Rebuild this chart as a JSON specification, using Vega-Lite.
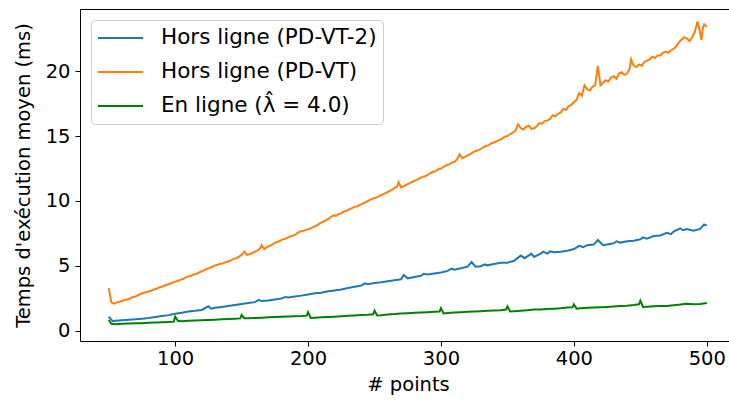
{
  "$schema": "https://vega.github.io/schema/vega-lite/v6.json",
  "width": 649,
  "height": 332,
  "autosize": {"type": "none"},
  "padding": {"left": 80, "top": 9, "right": 0, "bottom": 62},
  "background": "white",
  "config": {"view": {"stroke": null}, "font": "DejaVu Sans"},
  "data": {"values": [
{"s":"a","x":50,"y":1.1},{"s":"a","x":53,"y":0.75},{"s":"a","x":55,"y":0.78},{"s":"a","x":60,"y":0.82},{"s":"a","x":65,"y":0.87},{"s":"a","x":70,"y":0.9},{"s":"a","x":75,"y":0.95},{"s":"a","x":80,"y":1.0},{"s":"a","x":85,"y":1.08},{"s":"a","x":90,"y":1.15},{"s":"a","x":95,"y":1.22},{"s":"a","x":100,"y":1.32},{"s":"a","x":105,"y":1.4},{"s":"a","x":110,"y":1.5},{"s":"a","x":115,"y":1.55},{"s":"a","x":120,"y":1.62},{"s":"a","x":125,"y":1.9},{"s":"a","x":127,"y":1.72},{"s":"a","x":130,"y":1.78},{"s":"a","x":135,"y":1.85},{"s":"a","x":140,"y":1.92},{"s":"a","x":145,"y":2.0},{"s":"a","x":150,"y":2.07},{"s":"a","x":155,"y":2.15},{"s":"a","x":160,"y":2.22},{"s":"a","x":163,"y":2.4},{"s":"a","x":165,"y":2.3},{"s":"a","x":170,"y":2.35},{"s":"a","x":175,"y":2.42},{"s":"a","x":180,"y":2.5},{"s":"a","x":183,"y":2.62},{"s":"a","x":185,"y":2.58},{"s":"a","x":190,"y":2.65},{"s":"a","x":195,"y":2.72},{"s":"a","x":200,"y":2.8},{"s":"a","x":205,"y":2.9},{"s":"a","x":210,"y":2.95},{"s":"a","x":215,"y":3.05},{"s":"a","x":220,"y":3.12},{"s":"a","x":225,"y":3.2},{"s":"a","x":230,"y":3.3},{"s":"a","x":235,"y":3.4},{"s":"a","x":240,"y":3.5},{"s":"a","x":243,"y":3.66},{"s":"a","x":245,"y":3.6},{"s":"a","x":250,"y":3.7},{"s":"a","x":255,"y":3.75},{"s":"a","x":260,"y":3.82},{"s":"a","x":265,"y":3.9},{"s":"a","x":270,"y":3.98},{"s":"a","x":272,"y":4.3},{"s":"a","x":275,"y":4.05},{"s":"a","x":280,"y":4.15},{"s":"a","x":285,"y":4.25},{"s":"a","x":287,"y":4.4},{"s":"a","x":290,"y":4.35},{"s":"a","x":295,"y":4.42},{"s":"a","x":300,"y":4.5},{"s":"a","x":305,"y":4.62},{"s":"a","x":308,"y":4.8},{"s":"a","x":310,"y":4.72},{"s":"a","x":315,"y":4.82},{"s":"a","x":320,"y":4.95},{"s":"a","x":323,"y":5.3},{"s":"a","x":326,"y":4.95},{"s":"a","x":330,"y":4.98},{"s":"a","x":333,"y":5.12},{"s":"a","x":335,"y":5.05},{"s":"a","x":340,"y":5.15},{"s":"a","x":345,"y":5.25},{"s":"a","x":350,"y":5.25},{"s":"a","x":355,"y":5.4},{"s":"a","x":360,"y":5.8},{"s":"a","x":363,"y":5.6},{"s":"a","x":368,"y":5.95},{"s":"a","x":370,"y":5.7},{"s":"a","x":375,"y":5.95},{"s":"a","x":377,"y":6.1},{"s":"a","x":380,"y":5.95},{"s":"a","x":382,"y":6.12},{"s":"a","x":385,"y":6.05},{"s":"a","x":390,"y":6.1},{"s":"a","x":395,"y":6.18},{"s":"a","x":400,"y":6.3},{"s":"a","x":404,"y":6.55},{"s":"a","x":407,"y":6.45},{"s":"a","x":410,"y":6.6},{"s":"a","x":415,"y":6.65},{"s":"a","x":418,"y":7.0},{"s":"a","x":422,"y":6.6},{"s":"a","x":425,"y":6.65},{"s":"a","x":430,"y":6.75},{"s":"a","x":432,"y":6.9},{"s":"a","x":435,"y":6.8},{"s":"a","x":440,"y":6.9},{"s":"a","x":445,"y":6.95},{"s":"a","x":450,"y":7.05},{"s":"a","x":452,"y":7.2},{"s":"a","x":455,"y":7.1},{"s":"a","x":460,"y":7.3},{"s":"a","x":465,"y":7.35},{"s":"a","x":470,"y":7.55},{"s":"a","x":473,"y":7.45},{"s":"a","x":475,"y":7.65},{"s":"a","x":480,"y":7.9},{"s":"a","x":482,"y":7.75},{"s":"a","x":485,"y":7.85},{"s":"a","x":490,"y":7.72},{"s":"a","x":495,"y":7.85},{"s":"a","x":498,"y":8.2},{"s":"a","x":500,"y":8.1},
{"s":"b","x":50,"y":3.3},{"s":"b","x":52,"y":2.2},{"s":"b","x":54,"y":2.1},{"s":"b","x":56,"y":2.2},{"s":"b","x":58,"y":2.25},{"s":"b","x":60,"y":2.3},{"s":"b","x":62,"y":2.4},{"s":"b","x":64,"y":2.42},{"s":"b","x":66,"y":2.5},{"s":"b","x":68,"y":2.6},{"s":"b","x":70,"y":2.65},{"s":"b","x":72,"y":2.75},{"s":"b","x":74,"y":2.85},{"s":"b","x":76,"y":2.92},{"s":"b","x":78,"y":2.98},{"s":"b","x":80,"y":3.05},{"s":"b","x":82,"y":3.1},{"s":"b","x":84,"y":3.2},{"s":"b","x":86,"y":3.25},{"s":"b","x":88,"y":3.35},{"s":"b","x":90,"y":3.4},{"s":"b","x":92,"y":3.5},{"s":"b","x":94,"y":3.55},{"s":"b","x":96,"y":3.65},{"s":"b","x":98,"y":3.72},{"s":"b","x":100,"y":3.8},{"s":"b","x":102,"y":3.85},{"s":"b","x":104,"y":3.95},{"s":"b","x":106,"y":4.0},{"s":"b","x":108,"y":4.12},{"s":"b","x":110,"y":4.2},{"s":"b","x":112,"y":4.25},{"s":"b","x":114,"y":4.35},{"s":"b","x":116,"y":4.4},{"s":"b","x":118,"y":4.5},{"s":"b","x":120,"y":4.6},{"s":"b","x":122,"y":4.68},{"s":"b","x":124,"y":4.8},{"s":"b","x":126,"y":4.85},{"s":"b","x":128,"y":4.95},{"s":"b","x":130,"y":5.05},{"s":"b","x":132,"y":5.1},{"s":"b","x":134,"y":5.18},{"s":"b","x":136,"y":5.2},{"s":"b","x":138,"y":5.3},{"s":"b","x":140,"y":5.35},{"s":"b","x":142,"y":5.45},{"s":"b","x":144,"y":5.55},{"s":"b","x":146,"y":5.6},{"s":"b","x":148,"y":5.72},{"s":"b","x":150,"y":5.85},{"s":"b","x":152,"y":6.1},{"s":"b","x":154,"y":5.85},{"s":"b","x":156,"y":5.9},{"s":"b","x":158,"y":6.0},{"s":"b","x":160,"y":6.1},{"s":"b","x":162,"y":6.2},{"s":"b","x":164,"y":6.35},{"s":"b","x":165,"y":6.6},{"s":"b","x":167,"y":6.3},{"s":"b","x":169,"y":6.45},{"s":"b","x":171,"y":6.55},{"s":"b","x":173,"y":6.65},{"s":"b","x":175,"y":6.8},{"s":"b","x":177,"y":6.85},{"s":"b","x":179,"y":6.95},{"s":"b","x":181,"y":7.05},{"s":"b","x":183,"y":7.1},{"s":"b","x":185,"y":7.2},{"s":"b","x":187,"y":7.3},{"s":"b","x":189,"y":7.35},{"s":"b","x":191,"y":7.45},{"s":"b","x":193,"y":7.6},{"s":"b","x":195,"y":7.7},{"s":"b","x":197,"y":7.72},{"s":"b","x":199,"y":7.8},{"s":"b","x":201,"y":7.85},{"s":"b","x":203,"y":7.95},{"s":"b","x":205,"y":8.05},{"s":"b","x":207,"y":8.15},{"s":"b","x":209,"y":8.3},{"s":"b","x":211,"y":8.4},{"s":"b","x":213,"y":8.5},{"s":"b","x":215,"y":8.6},{"s":"b","x":217,"y":8.75},{"s":"b","x":219,"y":8.9},{"s":"b","x":221,"y":8.85},{"s":"b","x":223,"y":9.0},{"s":"b","x":225,"y":9.05},{"s":"b","x":227,"y":9.2},{"s":"b","x":229,"y":9.25},{"s":"b","x":231,"y":9.35},{"s":"b","x":233,"y":9.45},{"s":"b","x":235,"y":9.55},{"s":"b","x":237,"y":9.6},{"s":"b","x":239,"y":9.7},{"s":"b","x":241,"y":9.8},{"s":"b","x":243,"y":9.9},{"s":"b","x":245,"y":10.0},{"s":"b","x":247,"y":10.1},{"s":"b","x":249,"y":10.2},{"s":"b","x":251,"y":10.25},{"s":"b","x":253,"y":10.35},{"s":"b","x":255,"y":10.45},{"s":"b","x":257,"y":10.55},{"s":"b","x":259,"y":10.65},{"s":"b","x":261,"y":10.75},{"s":"b","x":263,"y":10.85},{"s":"b","x":265,"y":11.0},{"s":"b","x":267,"y":11.1},{"s":"b","x":268,"y":11.45},{"s":"b","x":270,"y":11.05},{"s":"b","x":272,"y":11.15},{"s":"b","x":274,"y":11.25},{"s":"b","x":276,"y":11.35},{"s":"b","x":278,"y":11.45},{"s":"b","x":280,"y":11.55},{"s":"b","x":282,"y":11.65},{"s":"b","x":284,"y":11.75},{"s":"b","x":286,"y":11.85},{"s":"b","x":288,"y":11.9},{"s":"b","x":290,"y":12.0},{"s":"b","x":292,"y":12.15},{"s":"b","x":294,"y":12.25},{"s":"b","x":296,"y":12.3},{"s":"b","x":298,"y":12.45},{"s":"b","x":300,"y":12.5},{"s":"b","x":302,"y":12.65},{"s":"b","x":304,"y":12.75},{"s":"b","x":306,"y":12.8},{"s":"b","x":308,"y":12.95},{"s":"b","x":310,"y":13.0},{"s":"b","x":312,"y":13.2},{"s":"b","x":314,"y":13.6},{"s":"b","x":316,"y":13.3},{"s":"b","x":318,"y":13.4},{"s":"b","x":320,"y":13.5},{"s":"b","x":322,"y":13.6},{"s":"b","x":324,"y":13.75},{"s":"b","x":326,"y":13.85},{"s":"b","x":328,"y":13.9},{"s":"b","x":330,"y":14.0},{"s":"b","x":332,"y":14.15},{"s":"b","x":334,"y":14.25},{"s":"b","x":336,"y":14.3},{"s":"b","x":338,"y":14.45},{"s":"b","x":340,"y":14.5},{"s":"b","x":342,"y":14.6},{"s":"b","x":344,"y":14.7},{"s":"b","x":346,"y":14.8},{"s":"b","x":348,"y":14.95},{"s":"b","x":350,"y":15.0},{"s":"b","x":352,"y":15.15},{"s":"b","x":354,"y":15.25},{"s":"b","x":356,"y":15.4},{"s":"b","x":358,"y":15.9},{"s":"b","x":360,"y":15.6},{"s":"b","x":362,"y":15.5},{"s":"b","x":364,"y":15.7},{"s":"b","x":366,"y":15.8},{"s":"b","x":368,"y":15.55},{"s":"b","x":370,"y":15.6},{"s":"b","x":372,"y":15.75},{"s":"b","x":374,"y":16.0},{"s":"b","x":376,"y":15.95},{"s":"b","x":378,"y":16.15},{"s":"b","x":380,"y":16.2},{"s":"b","x":382,"y":16.3},{"s":"b","x":384,"y":16.6},{"s":"b","x":386,"y":16.5},{"s":"b","x":388,"y":16.7},{"s":"b","x":390,"y":16.8},{"s":"b","x":392,"y":17.1},{"s":"b","x":394,"y":17.0},{"s":"b","x":396,"y":17.3},{"s":"b","x":398,"y":17.4},{"s":"b","x":400,"y":17.6},{"s":"b","x":402,"y":17.8},{"s":"b","x":404,"y":18.3},{"s":"b","x":406,"y":18.1},{"s":"b","x":408,"y":18.9},{"s":"b","x":410,"y":18.6},{"s":"b","x":412,"y":18.5},{"s":"b","x":414,"y":18.8},{"s":"b","x":416,"y":18.9},{"s":"b","x":418,"y":20.4},{"s":"b","x":420,"y":18.9},{"s":"b","x":422,"y":19.1},{"s":"b","x":424,"y":19.3},{"s":"b","x":426,"y":19.2},{"s":"b","x":428,"y":19.5},{"s":"b","x":430,"y":19.6},{"s":"b","x":432,"y":19.4},{"s":"b","x":434,"y":19.8},{"s":"b","x":436,"y":19.9},{"s":"b","x":438,"y":19.7},{"s":"b","x":440,"y":19.8},{"s":"b","x":442,"y":20.2},{"s":"b","x":443,"y":20.9},{"s":"b","x":445,"y":20.4},{"s":"b","x":447,"y":20.3},{"s":"b","x":449,"y":20.5},{"s":"b","x":451,"y":20.4},{"s":"b","x":453,"y":20.7},{"s":"b","x":455,"y":20.8},{"s":"b","x":457,"y":20.9},{"s":"b","x":459,"y":21.1},{"s":"b","x":461,"y":21.0},{"s":"b","x":463,"y":21.2},{"s":"b","x":465,"y":21.2},{"s":"b","x":467,"y":21.4},{"s":"b","x":469,"y":21.5},{"s":"b","x":471,"y":21.4},{"s":"b","x":473,"y":21.6},{"s":"b","x":475,"y":21.7},{"s":"b","x":477,"y":21.9},{"s":"b","x":479,"y":22.2},{"s":"b","x":481,"y":22.4},{"s":"b","x":483,"y":22.6},{"s":"b","x":485,"y":22.5},{"s":"b","x":487,"y":22.3},{"s":"b","x":489,"y":22.6},{"s":"b","x":491,"y":23.0},{"s":"b","x":493,"y":23.8},{"s":"b","x":494,"y":23.4},{"s":"b","x":496,"y":22.4},{"s":"b","x":497,"y":23.3},{"s":"b","x":498,"y":23.6},{"s":"b","x":500,"y":23.4},
{"s":"c","x":50,"y":0.85},{"s":"c","x":52,"y":0.55},{"s":"c","x":55,"y":0.52},{"s":"c","x":60,"y":0.55},{"s":"c","x":65,"y":0.58},{"s":"c","x":70,"y":0.6},{"s":"c","x":75,"y":0.6},{"s":"c","x":80,"y":0.63},{"s":"c","x":85,"y":0.65},{"s":"c","x":90,"y":0.68},{"s":"c","x":95,"y":0.7},{"s":"c","x":99,"y":0.72},{"s":"c","x":100,"y":1.1},{"s":"c","x":102,"y":0.78},{"s":"c","x":105,"y":0.75},{"s":"c","x":110,"y":0.78},{"s":"c","x":115,"y":0.8},{"s":"c","x":120,"y":0.82},{"s":"c","x":125,"y":0.84},{"s":"c","x":130,"y":0.87},{"s":"c","x":135,"y":0.9},{"s":"c","x":140,"y":0.92},{"s":"c","x":145,"y":0.95},{"s":"c","x":149,"y":0.97},{"s":"c","x":150,"y":1.23},{"s":"c","x":152,"y":0.98},{"s":"c","x":155,"y":0.98},{"s":"c","x":160,"y":1.0},{"s":"c","x":165,"y":1.02},{"s":"c","x":170,"y":1.05},{"s":"c","x":175,"y":1.07},{"s":"c","x":180,"y":1.1},{"s":"c","x":185,"y":1.12},{"s":"c","x":190,"y":1.14},{"s":"c","x":195,"y":1.15},{"s":"c","x":199,"y":1.18},{"s":"c","x":200,"y":1.45},{"s":"c","x":202,"y":1.0},{"s":"c","x":205,"y":1.02},{"s":"c","x":210,"y":1.05},{"s":"c","x":215,"y":1.08},{"s":"c","x":220,"y":1.1},{"s":"c","x":225,"y":1.13},{"s":"c","x":230,"y":1.17},{"s":"c","x":235,"y":1.2},{"s":"c","x":240,"y":1.23},{"s":"c","x":245,"y":1.25},{"s":"c","x":249,"y":1.28},{"s":"c","x":250,"y":1.56},{"s":"c","x":252,"y":1.2},{"s":"c","x":255,"y":1.22},{"s":"c","x":260,"y":1.27},{"s":"c","x":265,"y":1.3},{"s":"c","x":270,"y":1.35},{"s":"c","x":275,"y":1.37},{"s":"c","x":280,"y":1.4},{"s":"c","x":285,"y":1.43},{"s":"c","x":290,"y":1.45},{"s":"c","x":295,"y":1.48},{"s":"c","x":299,"y":1.5},{"s":"c","x":300,"y":1.75},{"s":"c","x":302,"y":1.35},{"s":"c","x":305,"y":1.38},{"s":"c","x":310,"y":1.42},{"s":"c","x":315,"y":1.45},{"s":"c","x":320,"y":1.48},{"s":"c","x":325,"y":1.5},{"s":"c","x":330,"y":1.52},{"s":"c","x":335,"y":1.55},{"s":"c","x":340,"y":1.57},{"s":"c","x":345,"y":1.6},{"s":"c","x":349,"y":1.65},{"s":"c","x":350,"y":1.9},{"s":"c","x":352,"y":1.5},{"s":"c","x":355,"y":1.52},{"s":"c","x":360,"y":1.56},{"s":"c","x":365,"y":1.6},{"s":"c","x":370,"y":1.65},{"s":"c","x":375,"y":1.66},{"s":"c","x":380,"y":1.7},{"s":"c","x":385,"y":1.72},{"s":"c","x":390,"y":1.75},{"s":"c","x":395,"y":1.8},{"s":"c","x":399,"y":1.82},{"s":"c","x":400,"y":2.05},{"s":"c","x":402,"y":1.72},{"s":"c","x":405,"y":1.75},{"s":"c","x":410,"y":1.78},{"s":"c","x":415,"y":1.8},{"s":"c","x":420,"y":1.82},{"s":"c","x":425,"y":1.85},{"s":"c","x":430,"y":1.88},{"s":"c","x":435,"y":1.92},{"s":"c","x":440,"y":1.95},{"s":"c","x":445,"y":2.0},{"s":"c","x":449,"y":2.05},{"s":"c","x":450,"y":2.33},{"s":"c","x":452,"y":1.85},{"s":"c","x":455,"y":1.87},{"s":"c","x":460,"y":1.9},{"s":"c","x":465,"y":1.92},{"s":"c","x":470,"y":1.93},{"s":"c","x":475,"y":1.98},{"s":"c","x":480,"y":2.03},{"s":"c","x":485,"y":2.1},{"s":"c","x":490,"y":2.05},{"s":"c","x":495,"y":2.08},{"s":"c","x":500,"y":2.15}
  ]},
  "layer": [
    {
      "mark": {"type": "line", "strokeWidth": 2, "clip": true},
      "encoding": {
        "x": {
          "field": "x", "type": "quantitative",
          "scale": {"domain": [28.4, 516.7], "nice": false, "zero": false},
          "axis": {
            "values": [100, 200, 300, 400, 500], "grid": false, "labelFlush": false, "labelOverlap": false,
            "domainColor": "#000", "tickColor": "#000", "tickSize": 5, "labelColor": "#000",
            "labelFontSize": 19.5, "labelPadding": 3, "title": "# points", "titleFontSize": 19.5,
            "titleFontWeight": "normal", "titleColor": "#000", "titlePadding": 8, "titleX": 328
          }
        },
        "y": {
          "field": "y", "type": "quantitative",
          "scale": {"domain": [-0.77, 24.77], "nice": false, "zero": false},
          "axis": {
            "values": [0, 5, 10, 15, 20], "grid": false, "labelOverlap": false, "labelFlush": false,
            "domainColor": "#000", "tickColor": "#000", "tickSize": 5, "labelColor": "#000",
            "labelFontSize": 19.5, "labelPadding": 5, "title": "Temps d'exécution moyen (ms)",
            "titleFontSize": 19.5, "titleFontWeight": "normal", "titleColor": "#000", "titlePadding": 12
          }
        },
        "color": {
          "field": "s", "type": "nominal",
          "scale": {"domain": ["a", "b", "c"], "range": ["#1f77b4", "#ff7f0e", "#008000"]},
          "legend": {
            "orient": "none", "legendX": 11, "legendY": 11, "title": null,
            "labelExpr": "datum.label == 'a' ? 'Hors ligne (PD-VT-2)' : datum.label == 'b' ? 'Hors ligne (PD-VT)' : 'En ligne (λ̂ = 4.0)'",
            "symbolType": "stroke", "symbolSize": 2025, "symbolStrokeWidth": 2,
            "labelFontSize": 21.5, "labelFont": "DejaVu Sans", "labelColor": "#000", "labelLimit": 400,
            "labelOffset": 17, "clipHeight": 24, "rowPadding": 10, "padding": 6,
            "fillColor": "white", "strokeColor": "#cccccc", "cornerRadius": 4
          }
        }
      }
    },
    {
      "mark": {"type": "line", "opacity": 0},
      "encoding": {
        "x": {
          "field": "x", "type": "quantitative",
          "scale": {"domain": [28.4, 516.7], "nice": false, "zero": false},
          "axis": {"orient": "top", "labels": false, "ticks": false, "title": null, "grid": false, "domainColor": "#000"}
        },
        "y": {"field": "y", "type": "quantitative"}
      }
    }
  ],
  "resolve": {"axis": {"x": "independent"}}
}
